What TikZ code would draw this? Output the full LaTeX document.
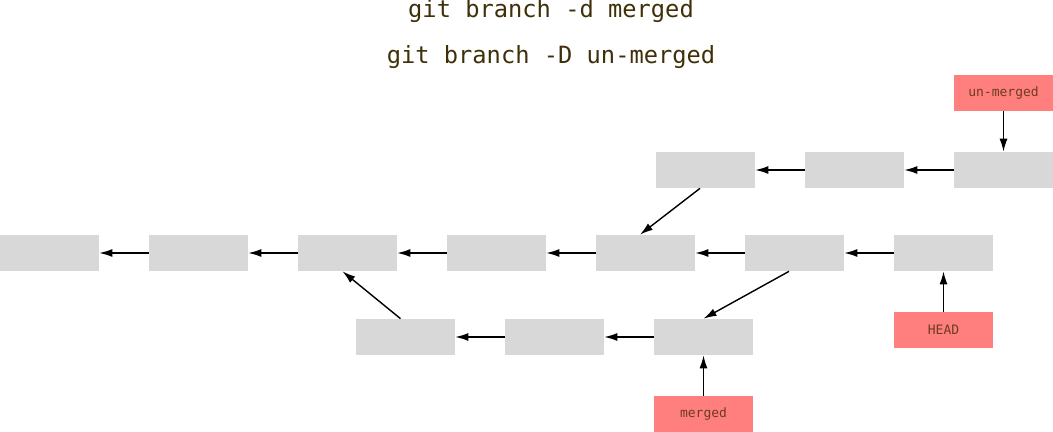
\documentclass[tikz,border=0pt]{standalone}
\usepackage{fontspec}
\setmonofont{DejaVu Sans Mono}
\usetikzlibrary{arrows.meta}
\definecolor{commitgray}{HTML}{D8D8D8}
\definecolor{refred}{HTML}{FF7F7F}
\definecolor{cmdbrown}{HTML}{3F300A}
\definecolor{refbrown}{HTML}{6E3A22}
\begin{document}
\begin{tikzpicture}[
        x=0.02cm, y=-0.02cm,
        commit/.style={rectangle, fill=commitgray, minimum width=1.98cm, minimum height=0.72cm, inner sep=0pt},
        ref/.style={rectangle, fill=refred, minimum width=1.98cm, minimum height=0.72cm, inner sep=0pt,
                    font=\ttfamily\fontsize{7.4}{9}\selectfont, text=refbrown},
        cmd/.style={font=\ttfamily\fontsize{13.5}{16}\selectfont, text=cmdbrown},
        parent/.style={-{Latex[length=2.6mm, width=1.6mm]}, thick}
        ]
      \useasboundingbox (0,0) rectangle (1053,432);
      \node[cmd] (del) at (551,11) {git branch -d merged};
      \node[cmd] (force) at (551,57) {git branch -D un-merged};
      % main line
      \node[commit] (c1) at (49.5,253) {};
      \node[commit] (c2) at (198.5,253) {};
      \node[commit] (c3) at (347.5,253) {};
      \node[commit] (c4) at (496.5,253) {};
      \node[commit] (c5) at (645.5,253) {};
      \node[commit] (c6) at (794.5,253) {};
      \node[commit] (c7) at (943.5,253) {};
      % un-merged branch
      \node[commit] (u1) at (705.5,170) {};
      \node[commit] (u2) at (854.5,170) {};
      \node[commit] (u3) at (1003.5,170) {};
      % merged branch
      \node[commit] (m1) at (405.5,337) {};
      \node[commit] (m2) at (554.5,337) {};
      \node[commit] (m3) at (703.5,337) {};
      % refs
      \node[ref] (unmerged) at (1003.5,93) {un-merged};
      \node[ref] (head) at (943.5,330) {HEAD};
      \node[ref] (merged) at (703.5,414) {merged};
      \draw[parent] (c2) -- (c1);
      \draw[parent] (c3) -- (c2);
      \draw[parent] (c4) -- (c3);
      \draw[parent] (c5) -- (c4);
      \draw[parent] (c6) -- (c5);
      \draw[parent] (c7) -- (c6);
      \draw[parent] (u2) -- (u1);
      \draw[parent] (u3) -- (u2);
      \draw[parent] (m2) -- (m1);
      \draw[parent] (m3) -- (m2);
      \draw[parent] ([xshift=-0.11cm]u1.south) -- ([xshift=-0.11cm]c5.north);
      \draw[parent] ([xshift=-0.11cm]c6.south) -- (m3.north);
      \draw[parent] ([xshift=-0.1cm]m1.north) -- ([xshift=-0.1cm]c3.south);
      \draw[parent] (unmerged) -- (u3);
      \draw[parent] (head) -- (c7);
      \draw[parent] (merged) -- (m3);
    \end{tikzpicture}
\end{document}
